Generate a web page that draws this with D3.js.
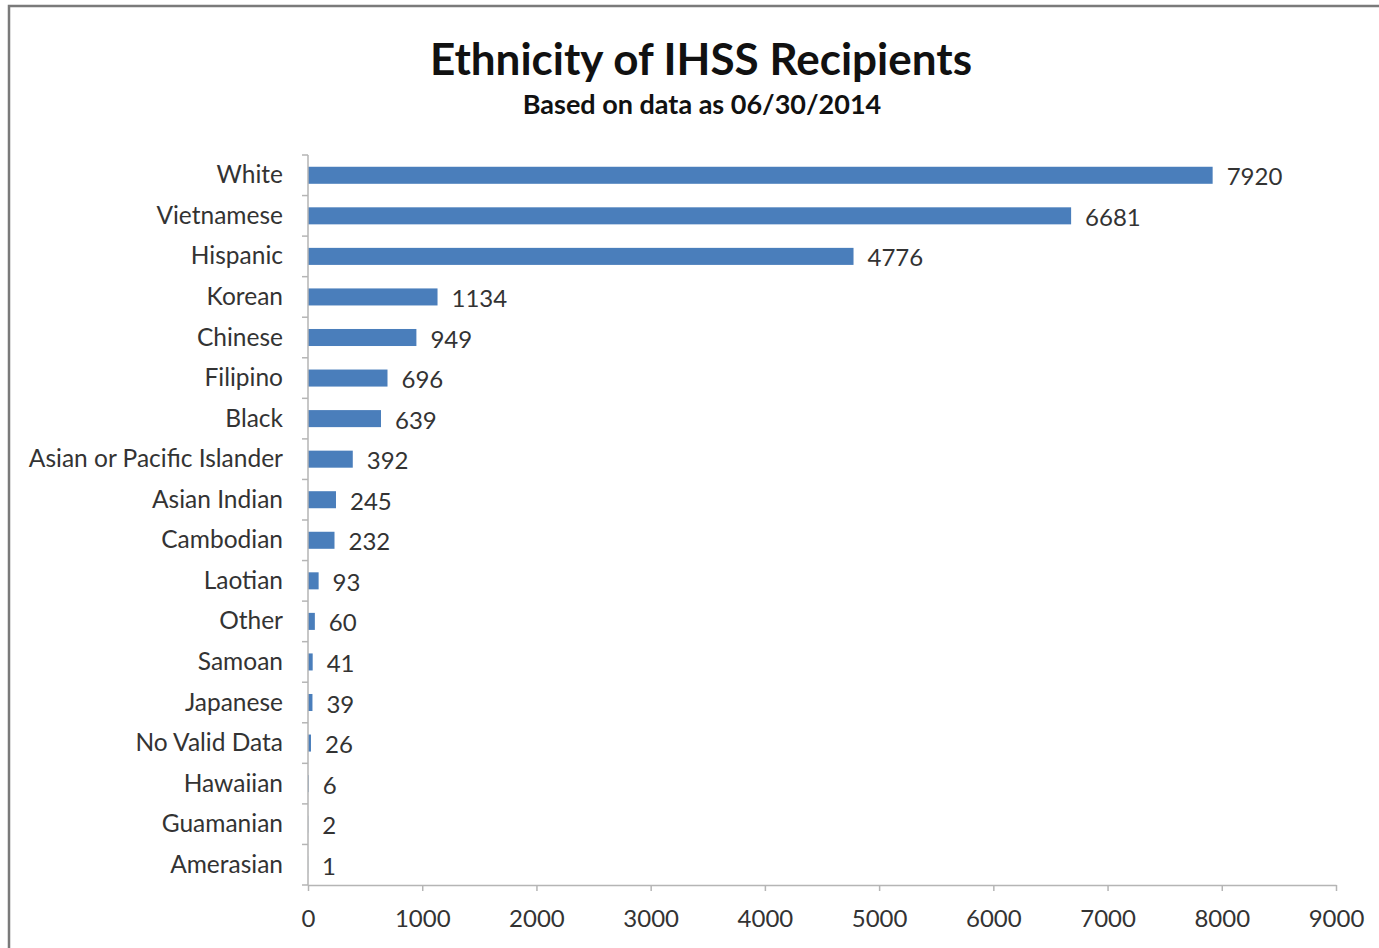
<!DOCTYPE html>
<html>
<head>
<meta charset="utf-8">
<script src="https://cdn.jsdelivr.net/npm/d3@7"></script>
<style>
  body { margin: 0; background: #fff; }
  svg { display: block; font-family: Lato, "Open Sans", sans-serif; }
</style>
</head>
<body>
<svg width="1379" height="948"></svg>
<script>
// Ethnicity categories, top to bottom
const categories = ["White", "Vietnamese", "Hispanic", "Korean", "Chinese", "Filipino", "Black",
  "Asian or Pacific Islander", "Asian Indian", "Cambodian", "Laotian", "Other", "Samoan",
  "Japanese", "No Valid Data", "Hawaiian", "Guamanian", "Amerasian"];

// Recipients per ethnicity
const counts = [7920, 6681, 4776, 1134, 949, 696, 639, 392, 245, 232, 93, 60, 41, 39, 26, 6, 2, 1];

// X axis ticks
const xTicks = [0, 1000, 2000, 3000, 4000, 5000, 6000, 7000, 8000, 9000];

const data = categories.map((c, i) => ({ name: c, value: counts[i] }));

const svg = d3.select("svg");

// Outer frame (only left/top visible in the picture)
svg.append("rect")
    .attr("x", 9)
    .attr("y", 6)
    .attr("width", 1400)
    .attr("height", 1000)
    .attr("fill", "none")
    .attr("stroke", "#7a7a7a")
    .attr("stroke-width", 2.5);

// Titles
svg.append("text")
    .attr("x", 701)
    .attr("y", 75)
    .attr("text-anchor", "middle")
    .style("font-size", "44px")
    .style("font-weight", "bold")
    .style("fill", "#111")
    .text("Ethnicity of IHSS Recipients");

svg.append("text")
    .attr("x", 702)
    .attr("y", 114)
    .attr("text-anchor", "middle")
    .style("font-size", "27px")
    .style("font-weight", "bold")
    .style("fill", "#111")
    .text("Based on data as 06/30/2014");

// Plot area
const plotLeft = 308, plotRight = 1336, plotTop = 155, plotBottom = 885;

const x = d3.scaleLinear()
    .domain([0, 9000])
    .range([plotLeft, plotRight]);

const y = d3.scaleBand()
    .domain(categories)
    .range([plotTop, plotBottom])
    .paddingInner(0.58)
    .paddingOuter(0.29);

const band = (plotBottom - plotTop) / categories.length;

// Bars
svg.append("g")
  .selectAll("rect")
  .data(data)
  .enter().append("rect")
    .attr("x", x(0))
    .attr("y", d => y(d.name))
    .attr("width", d => x(d.value) - x(0))
    .attr("height", y.bandwidth())
    .attr("fill", "#4a7ebb");

// Value labels
svg.append("g")
  .selectAll("text")
  .data(data)
  .enter().append("text")
    .attr("x", d => x(d.value) + 14)
    .attr("y", d => y(d.name) + y.bandwidth() / 2 + 10)
    .style("font-size", "24px")
    .style("fill", "#333")
    .text(d => d.value);

// Y axis: line, ticks at band boundaries, labels
const yAxis = svg.append("g");
yAxis.append("line")
    .attr("x1", plotLeft).attr("x2", plotLeft)
    .attr("y1", plotTop).attr("y2", plotBottom)
    .attr("stroke", "#b5b5b5")
    .attr("stroke-width", 1.5);

yAxis.selectAll(".ytick")
  .data(d3.range(categories.length + 1))
  .enter().append("line")
    .attr("x1", plotLeft - 6).attr("x2", plotLeft)
    .attr("y1", i => plotTop + i * band)
    .attr("y2", i => plotTop + i * band)
    .attr("stroke", "#b5b5b5")
    .attr("stroke-width", 1.5);

yAxis.selectAll(".ylabel")
  .data(categories)
  .enter().append("text")
    .attr("x", 283)
    .attr("y", d => y(d) + y.bandwidth() / 2 + 8)
    .attr("text-anchor", "end")
    .style("font-size", "24.5px")
    .style("fill", "#333")
    .text(d => d);

// X axis
const xAxis = svg.append("g")
    .attr("transform", `translate(0,${plotBottom})`)
    .call(d3.axisBottom(x).tickValues(xTicks).tickSize(6).tickSizeOuter(0).tickPadding(19).tickFormat(d3.format("d")));

xAxis.select(".domain").attr("stroke", "#b5b5b5").attr("stroke-width", 1.5);
xAxis.selectAll(".tick line").attr("stroke", "#b5b5b5").attr("stroke-width", 1.5);
xAxis.selectAll(".tick text")
    .style("font-size", "24px")
    .style("font-family", "Lato, 'Open Sans', sans-serif")
    .style("fill", "#333");
</script>
</body>
</html>
